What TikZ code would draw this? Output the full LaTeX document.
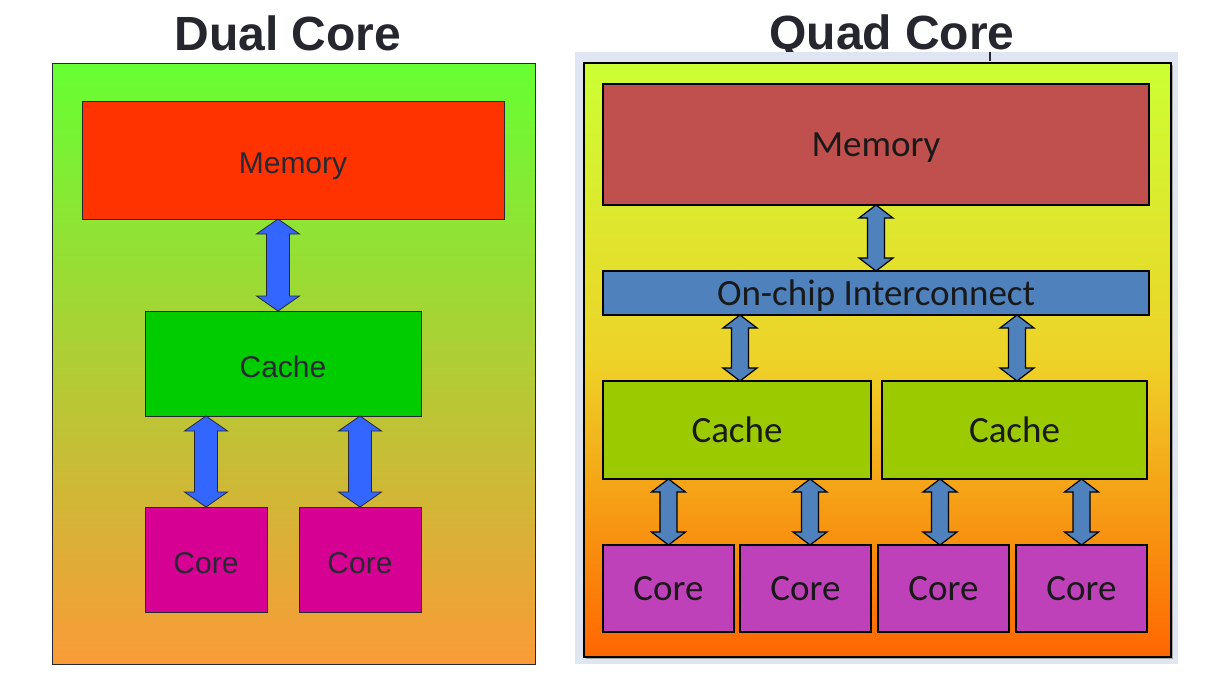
\documentclass[tikz,border=0pt]{standalone}
\usepackage{fontspec}
\setmainfont{Liberation Sans}
\newfontfamily\calfont{Carlito}
\usetikzlibrary{calc}
\definecolor{lgtop}{RGB}{102,255,51}
\definecolor{lgbot}{RGB}{250,155,55}
\definecolor{lmem}{RGB}{255,51,0}
\definecolor{lcache}{RGB}{0,204,0}
\definecolor{lcore}{RGB}{214,0,147}
\definecolor{larrow}{RGB}{51,102,255}
\definecolor{ltext}{RGB}{40,40,52}
\definecolor{rtop}{RGB}{204,255,51}
\definecolor{rmid}{RGB}{238,210,40}
\definecolor{rbot}{RGB}{255,102,0}
\definecolor{rframe}{RGB}{223,230,241}
\definecolor{rmem}{RGB}{192,80,77}
\definecolor{rblue}{RGB}{79,129,189}
\definecolor{rcache}{RGB}{155,202,0}
\definecolor{rcore}{RGB}{190,65,185}
\definecolor{titlec}{RGB}{38,38,46}
\newcommand\blkarrow[7]{% style, upper node, lower node, shaft half, head half, head length, x offset
\path[#1] let \p1=(#2.south), \p2=(#3.north) in
 (\x2+#7,\y1) -- (\x2+#7+#5,\y1-#6) -- (\x2+#7+#4,\y1-#6) -- (\x2+#7+#4,\y2+#6) -- (\x2+#7+#5,\y2+#6)
 -- (\x2+#7,\y2) -- (\x2+#7-#5,\y2+#6) -- (\x2+#7-#4,\y2+#6) -- (\x2+#7-#4,\y1-#6) -- (\x2+#7-#5,\y1-#6) -- cycle;}
\tikzset{
  lbox/.style={draw=ltext, line width=0.8pt, inner sep=0pt, outer sep=0pt, anchor=north west,
    text=ltext, font=\fontsize{30}{30}\selectfont, text height=27pt, text depth=0pt},
  rbox/.style={draw=black, line width=1.3pt, inner sep=0pt, outer sep=0pt, anchor=north west,
    text=black!90, font=\calfont\fontsize{37}{37}\selectfont, text height=24pt, text depth=0pt},
  larr/.style={fill=larrow, draw=ltext, line width=0.8pt, line join=miter},
  rarr/.style={fill=rblue, draw=black, line width=1.2pt, line join=miter},
  title/.style={anchor=base, text=titlec, font=\bfseries\fontsize{48}{48}\selectfont}
}
\begin{document}
\begin{tikzpicture}[x=1pt,y=-1pt]
\useasboundingbox (0,0) rectangle (1217,685);
\fill[white] (0,0) rectangle (1217,685);
% titles
\node[title] (t1) at (288,51) {Dual Core};
\node[title] (t2) at (892,50) {Quad Core};
% left panel
\node[draw=ltext, line width=1pt, top color=lgtop, bottom color=lgbot, minimum width=483pt, minimum height=601pt, anchor=north west, inner sep=0pt] (lp) at (52,63) {};
\node[lbox, fill=lmem, minimum width=422pt, minimum height=118pt] (lmem) at (82,101) {Memory};
\node[lbox, fill=lcache, minimum width=276pt, minimum height=105pt] (lcache) at (145,311) {Cache};
\node[lbox, fill=lcore, minimum width=122pt, minimum height=105pt] (lc1) at (145,507) {Core};
\node[lbox, fill=lcore, minimum width=122pt, minimum height=105pt] (lc2) at (299,507) {Core};
\blkarrow{larr}{lmem}{lcache}{11.5pt}{21.5pt}{15pt}{-5pt}
\blkarrow{larr}{lcache}{lc1}{11.5pt}{21.5pt}{15pt}{0pt}
\blkarrow{larr}{lcache}{lc2}{11.5pt}{21.5pt}{15pt}{0pt}
% right panel
\fill[rframe] (575,52) rectangle (1178,664);
\fill[black!35] (586,65) rectangle (1173,659);
\node[draw=black, line width=2pt, top color=rtop, bottom color=rbot, middle color=rmid, minimum width=587pt, minimum height=594pt, anchor=north west, inner sep=0pt] (rp) at (583,62) {};
\node[rbox, fill=rmem, minimum width=546pt, minimum height=121pt] (rmem) at (603,84) {Memory};
\node[rbox, fill=rblue, minimum width=546pt, minimum height=44pt] (ric) at (603,271) {On-chip Interconnect};
\node[rbox, fill=rcache, minimum width=268pt, minimum height=98pt] (rca1) at (603,381) {Cache};
\node[rbox, fill=rcache, minimum width=265pt, minimum height=98pt] (rca2) at (882,381) {Cache};
\node[rbox, fill=rcore, minimum width=131pt, minimum height=87pt] (rc1) at (603,545) {Core};
\node[rbox, fill=rcore, minimum width=131pt, minimum height=87pt] (rc2) at (740,545) {Core};
\node[rbox, fill=rcore, minimum width=131pt, minimum height=87pt] (rc3) at (878,545) {Core};
\node[rbox, fill=rcore, minimum width=131pt, minimum height=87pt] (rc4) at (1016,545) {Core};
\blkarrow{rarr}{rmem}{ric}{8.5pt}{17pt}{13pt}{0pt}
\blkarrow{rarr}{ric}{rca1}{8.5pt}{17pt}{13pt}{3pt}
\blkarrow{rarr}{ric}{rca2}{8.5pt}{17pt}{13pt}{2.5pt}
\blkarrow{rarr}{rca1}{rc1}{8.5pt}{17pt}{13pt}{0pt}
\blkarrow{rarr}{rca1}{rc2}{8.5pt}{17pt}{13pt}{4.5pt}
\blkarrow{rarr}{rca2}{rc3}{8.5pt}{17pt}{13pt}{-3.5pt}
\blkarrow{rarr}{rca2}{rc4}{8.5pt}{17pt}{13pt}{0pt}
\coordinate (tk1) at (990,52);
\coordinate (tk2) at (990,61);
\draw[line width=1.2pt, titlec] (tk1) -- (tk2);
\end{tikzpicture}
\end{document}
